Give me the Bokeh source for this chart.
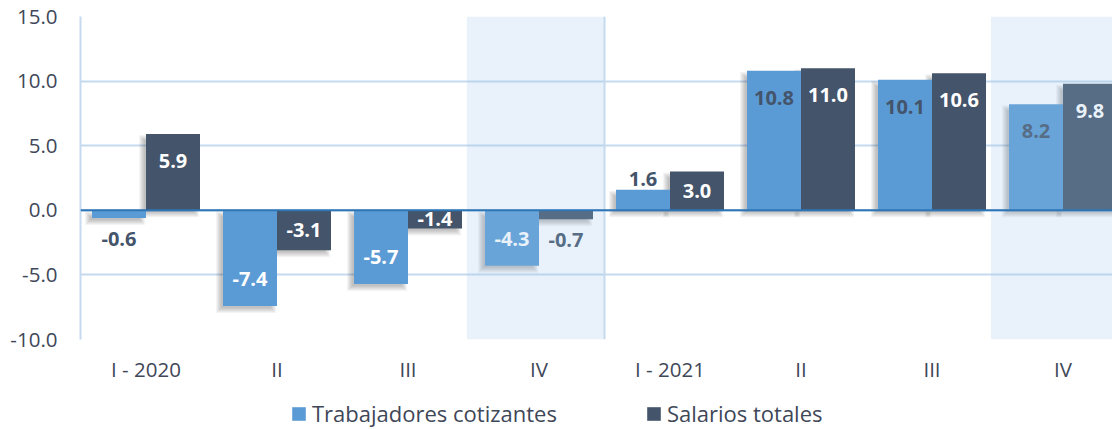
from bokeh.plotting import figure
from bokeh.layouts import column
from bokeh.models import (Range1d, FixedTicker, NumeralTickFormatter, Legend,
                          LegendItem, Span)
from bokeh.core.properties import value
from bokeh.embed import file_html
from bokeh.resources import INLINE

# ---------------- data ----------------
quarters = ["I - 2020", "II", "III", "IV", "I - 2021", "II", "III", "IV"]
trabajadores = [-0.6, -7.4, -5.7, -4.3, 1.6, 10.8, 10.1, 8.2]
salarios = [5.9, -3.1, -1.4, -0.7, 3.0, 11.0, 10.6, 9.8]
series_names = ["Trabajadores cotizantes", "Salarios totales"]
y_ticks = [-10, -5, 0, 5, 10, 15]
highlight_quarters = [3, 7]
year_start_index = 4

# ---------------- style ----------------
FONT = "Open Sans"
BLUE = "#5B9BD5"
DARK = "#44546A"
GRID = "#C5DAEF"
TXT = "#404758"
W = 1112
H1, H2 = 395, 33
LEFT, TOP = 80, 16
FRAME_H = 323
BOTTOM = H1 - TOP - FRAME_H
FRAME_W = W - LEFT
CAT_PX = 131.0
Y0, Y1 = -10, 15
XPU = 1.0 / CAT_PX                    # data units per pixel (x)
YPU = (Y1 - Y0) / FRAME_H             # data units per pixel (y)
BW = 54 * XPU
outside_t = [True, False, False, False, True, False, False, False]
outside_s = [False, False, False, True, False, False, False, False]

p = figure(width=W, height=H1, output_backend="svg", toolbar_location=None,
           x_range=Range1d(0, FRAME_W / CAT_PX), y_range=Range1d(Y0, Y1),
           min_border_left=LEFT, min_border_right=0, min_border_top=TOP,
           min_border_bottom=BOTTOM, outline_line_color=None,
           background_fill_color="white", border_fill_color="white")

# grid / axes
p.xgrid.visible = False
p.ygrid.ticker = FixedTicker(ticks=y_ticks)
p.ygrid.grid_line_color = GRID
p.ygrid.grid_line_width = 2
p.yaxis.ticker = FixedTicker(ticks=y_ticks)
p.yaxis.formatter = NumeralTickFormatter(format="0.0")
p.yaxis.axis_line_color = GRID
p.yaxis.axis_line_width = 2
p.yaxis.major_tick_line_color = None
p.yaxis.minor_tick_line_color = None
p.yaxis.major_label_standoff = 17
for ax in (p.xaxis, p.yaxis):
    ax.major_label_text_font = FONT
    ax.major_label_text_font_size = "20.5px"
    ax.major_label_text_color = TXT
centers = [i + 0.5 for i in range(len(quarters))]
p.xaxis.ticker = FixedTicker(ticks=centers)
p.xaxis.major_label_overrides = {c: q for c, q in zip(centers, quarters)}
p.xaxis.axis_line_color = None
p.xaxis.major_tick_line_color = None
p.xaxis.minor_tick_line_color = None
p.xaxis.major_label_standoff = 9

x_t = [c - BW / 2 for c in centers]
x_s = [c + BW / 2 for c in centers]

# shadows
for xs, vals in ((x_t, trabajadores), (x_s, salarios)):
    for e in (-2, -1, 0, 1, 2, 3):
        p.quad(left=[x - BW / 2 - (4 + e) * XPU for x in xs],
               right=[x + BW / 2 - (4 - e) * XPU for x in xs],
               bottom=[min(0, v) - (4 + e) * YPU for v in vals],
               top=[max(0, v) - (4 - e) * YPU for v in vals],
               fill_color="black", fill_alpha=0.045, line_color=None)

p.vbar(x=x_t, top=trabajadores, bottom=0, width=BW,
       fill_color=BLUE, line_color=None)
p.vbar(x=x_s, top=salarios, bottom=0, width=BW,
       fill_color=DARK, line_color=None)

# data labels
lx, ly, lt, lc = [], [], [], []
for xs, vals, outs, is_t in ((x_t, trabajadores, outside_t, True),
                             (x_s, salarios, outside_s, False)):
    for x, v, out in zip(xs, vals, outs):
        hpx = abs(v) / YPU
        s = 1 if v >= 0 else -1
        if out:
            off = 11 if v >= 0 else 21
            y = v + s * off * YPU
            col = DARK
        else:
            off = min(27, hpx / 2)
            y = v - s * off * YPU
            col = DARK if (is_t and v > 0) else "white"
        lx.append(x); ly.append(y); lt.append(f"{v:.1f}"); lc.append(col)
p.text(x=lx, y=ly, text=lt, text_color=lc, text_align="center",
       text_baseline="middle", text_font=value(FONT), text_font_style="bold",
       text_font_size="20px")

# highlighted quarters
p.quad(left=[i - 0.05 for i in highlight_quarters],
       right=[i + 1.5 if i == len(quarters) - 1 else i + 1 for i in highlight_quarters],
       bottom=Y0, top=Y1, fill_color="#9DC3E6", fill_alpha=0.22, line_color=None)

p.add_layout(Span(location=year_start_index, dimension="height",
                  line_color=GRID, line_width=2))
p.add_layout(Span(location=0, dimension="width", line_color="#2E75B6",
                  line_width=2))

# ---------------- legend strip ----------------
q = figure(width=W, height=H2, output_backend="svg", toolbar_location=None,
           x_range=Range1d(0, 1), y_range=Range1d(0, 1),
           x_axis_type=None, y_axis_type=None, min_border=0,
           outline_line_color=None, background_fill_color="white",
           border_fill_color="white")
q.grid.visible = False
# swatch renderers kept outside the visible range; only their legend shows
g_t = q.vbar(x=[5], top=[1], width=0.1, fill_color=BLUE, line_color=None)
g_s = q.vbar(x=[5], top=[1], width=0.1, fill_color=DARK, line_color=None)
legend = Legend(items=[LegendItem(label=series_names[0], renderers=[g_t]),
                       LegendItem(label=series_names[1], renderers=[g_s])],
                orientation="horizontal", location=(210, 0),
                glyph_width=17, glyph_height=17, label_standoff=5, spacing=88,
                padding=0, margin=0, border_line_color=None,
                background_fill_alpha=0, label_text_font=FONT,
                label_text_font_size="22px", label_text_color=TXT)
q.add_layout(legend, "center")

layout = column(p, q, spacing=0)
open("out.html", "w").write(file_html(layout, INLINE))
